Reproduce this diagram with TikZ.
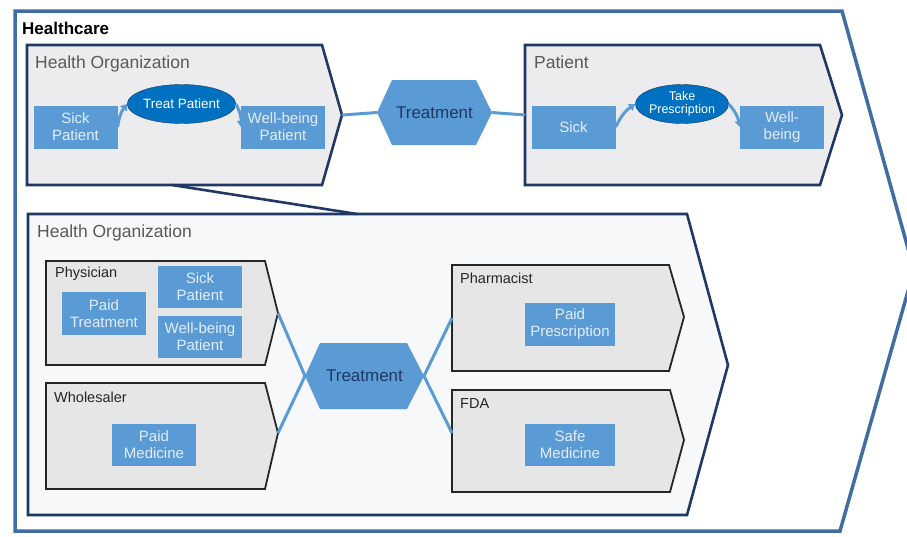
\documentclass[tikz,border=0pt]{standalone}
\usepackage{fontspec}
\setmainfont{Liberation Sans}
\usetikzlibrary{arrows.meta,shapes.geometric,positioning}
\definecolor{navy}{RGB}{31,56,100}
\definecolor{frameblue}{RGB}{64,110,160}
\definecolor{boxblue}{RGB}{91,155,213}
\definecolor{ovalblue}{RGB}{0,112,192}
\definecolor{boxtext}{RGB}{226,237,248}
\definecolor{labelgray}{RGB}{89,89,89}
\definecolor{orggray}{RGB}{236,236,238}
\definecolor{rolegray}{RGB}{230,230,230}
\definecolor{paleback}{RGB}{247,248,250}

\begin{document}
\begin{tikzpicture}[x=1pt,y=-1pt,
    every node/.style={inner sep=0pt},
    frame/.style={draw=frameblue, line width=3.5pt, line join=miter},
    org/.style={draw=navy, line width=2.6pt, line join=miter, fill=orggray},
    role/.style={draw=black!85, line width=1.8pt, line join=miter, fill=rolegray},
    state/.style={fill=boxblue, text=boxtext, minimum width=84pt, minimum height=43pt, align=center, font=\fontsize{15}{17}\selectfont},
    task/.style={ellipse, draw=navy, fill=ovalblue, text=white, minimum width=91pt, minimum height=39pt, align=center, font=\fontsize{13.5}{13}\selectfont},
    hubtext/.style={text=navy, font=\fontsize{17}{20}\selectfont},
    title/.style={anchor=north west, text=labelgray, font=\fontsize{17.5}{20}\selectfont},
    rolename/.style={anchor=north west, text=black!85, font=\fontsize{14.5}{17}\selectfont},
    link/.style={draw=boxblue, line width=3pt},
    flow/.style={draw=boxblue, line width=3pt, -{Triangle[length=6pt,width=8pt]}}
  ]
    \useasboundingbox (0,0) rectangle (907,536);

    % Healthcare frame
    \draw[frame] (15,11) -- (842,11) -- (914,270) -- (840,531) -- (15,531) -- cycle;
    \node[anchor=north west, font=\fontsize{17}{20}\selectfont\bfseries] (care) at (22,22) {Healthcare};

    % Upper lane: health organization and patient
    \draw[org] (27,45) -- (322,45) -- (342,115) coordinate (org1tip) -- (322,185) -- (27,185) -- cycle;
    \draw[org] (525,45) -- (820,45) -- (842,115) -- (820,185) -- (525,185) -- cycle;
    \coordinate (org1foot) at (172,185);
    \coordinate (pat1in) at (525,115);
    \node[title] (org1lbl) at (35,56) {Health Organization};
    \node[title] (pat1lbl) at (534,56) {Patient};

    \node[state] (sick1) at (75.5,127) {Sick\\Patient};
    \node[task] (task1) at (181.5,104) {Treat Patient};
    \node[state] (well1) at (283,127) {Well-being\\Patient};
    \draw[flow] (sick1.east) to[bend left=15] (task1.west);
    \draw[flow] (task1.east) to[bend left=15] (well1.west);

    \node[state] (sick2) at (573.5,127) {Sick};
    \node[task, font=\fontsize{12.5}{13}\selectfont] (task2) at (682,104) {Take\\Prescription};
    \node[state] (well2) at (782,127) {Well-\\being};
    \draw[flow] (sick2.east) to[bend left=15] (task2.west);
    \draw[flow] (task2.east) to[bend left=15] (well2.west);

    % Upper treatment hub
    \fill[boxblue] (377,112.5) coordinate (treat1w) -- (392,80) -- (476,80)
        -- (492,112.5) coordinate (treat1e) -- (476,145) -- (392,145) -- cycle;
    \node[hubtext] (treat1) at (434.5,112.5) {Treatment};
    \draw[link] (org1tip) -- (treat1w);
    \draw[link] (treat1e) -- (pat1in);

    % Lower lane: inside the health organization
    \draw[org, fill=paleback] (28,214) -- (687,214) -- (728,365) -- (687,515) -- (28,515) -- cycle;
    \coordinate (org2head) at (357,214);
    \draw[navy, line width=2.6pt] (org1foot) -- (org2head);
    \node[title] (org2lbl) at (37,225) {Health Organization};

    \draw[role] (46,261) -- (265,261) -- (278,313) coordinate (physTip) -- (265,365) -- (46,365) -- cycle;
    \draw[role] (46,383) -- (265,383) -- (278,433) coordinate (wholeTip) -- (265,489) -- (46,489) -- cycle;
    \draw[role] (452,265) -- (669,265) -- (684,317) -- (669,371) -- (452,371) -- cycle;
    \draw[role] (452,390) -- (670,390) -- (684,440) -- (670,492) -- (452,492) -- cycle;
    \coordinate (pharmIn) at (452,318);
    \coordinate (fdaIn) at (452,433);

    \node[rolename] (physLbl) at (55,267) {Physician};
    \node[rolename] (wholeLbl) at (54,392) {Wholesaler};
    \node[rolename] (pharmLbl) at (460,273) {Pharmacist};
    \node[rolename] (fdaLbl) at (460,398) {FDA};

    \node[state] (paidT) at (104,313.5) {Paid\\Treatment};
    \node[state, minimum height=42pt] (sickP) at (200,287) {Sick\\Patient};
    \node[state, minimum height=42pt] (wellP) at (200,337) {Well-being\\Patient};
    \node[state, minimum height=42pt] (paidM) at (154,445) {Paid\\Medicine};
    \node[state, minimum width=90pt] (paidP) at (570,324.5) {Paid\\Prescription};
    \node[state, minimum width=90pt, minimum height=42pt] (safeM) at (570,445) {Safe\\Medicine};

    % Lower treatment hub
    \fill[boxblue] (305,376) coordinate (treat2w) -- (320,343) -- (407,343)
        -- (424,376) coordinate (treat2e) -- (407,409) -- (320,409) -- cycle;
    \node[hubtext] (treat2) at (364.5,376) {Treatment};
    \draw[link] (physTip) -- (treat2w);
    \draw[link] (wholeTip) -- (treat2w);
    \draw[link] (treat2e) -- (pharmIn);
    \draw[link] (treat2e) -- (fdaIn);
\end{tikzpicture}
\end{document}
